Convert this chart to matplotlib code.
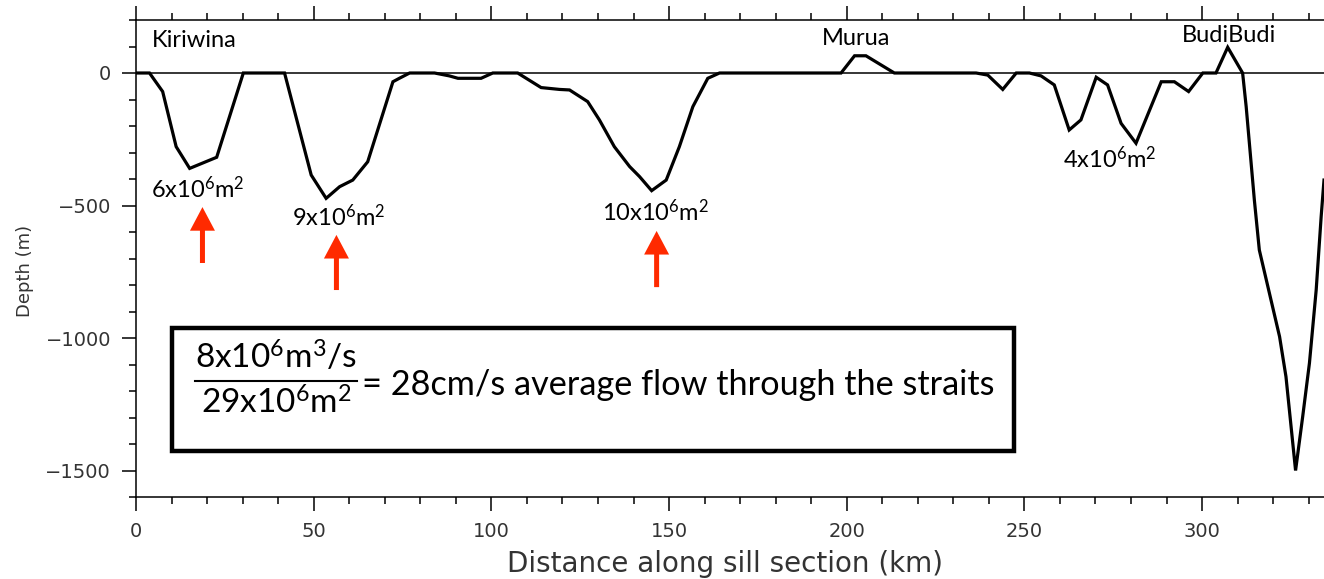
import matplotlib
matplotlib.use('Agg')
import matplotlib.pyplot as plt
from matplotlib.patches import Rectangle, FancyArrowPatch
from matplotlib.ticker import MultipleLocator

# ---------------- data ----------------
distance_km = [0, 3.8, 7.5, 11.3, 15.1, 22.7, 30.2, 41.8, 49.3, 53.5, 57.3, 61.0, 65.2,
               72.3, 74.1, 77.0, 84.0, 88.2, 90.6, 97.1, 100.4, 107.4, 114.0, 119.2,
               122.0, 127.1, 130.4, 134.6, 138.9, 141.7, 145.1, 149.2, 152.9, 156.7,
               160.9, 164.2, 198.4, 202.2, 205.4, 213.4, 236.4, 239.7, 243.9, 247.7,
               251.4, 254.7, 258.4, 262.6, 265.9, 270.2, 273.4, 277.2, 281.4, 288.5,
               292.2, 296.2, 300.2, 303.9, 307.2, 311.4, 312.4, 314.7, 316.1, 321.8,
               323.6, 326.3, 328.3, 330.2, 332.1, 333.5, 334.3]
depth_m = [0, 0, -70, -278, -360, -318, 0, 0, -385, -473, -429, -404, -335,
           -33, -20, 0, 0, -11, -20, -20, 0, 0, -55, -62,
           -64, -108, -177, -278, -353, -391, -444, -404, -278, -127,
           -20, 0, 0, 65, 65, 0, 0, -8, -62, 0,
           0, -11, -45, -215, -177, -16, -45, -190, -265, -33,
           -33, -70, 0, 0, 97, 0, -127, -479, -668, -995,
           -1146, -1500, -1297, -1095, -819, -542, -404]

place_names = ["Kiriwina", "Murua", "BudiBudi"]
place_km = [16.5, 202.5, 307.7]
place_m = [121, 132, 140]

area_labels = [r"$\mathrm{6x10^6m^2}$", r"$\mathrm{9x10^6m^2}$",
               r"$\mathrm{10x10^6m^2}$", r"$\mathrm{4x10^6m^2}$"]
area_km = [17.3, 57.0, 146.2, 273.9]
area_m = [-442, -547, -528, -328]

arrow_km = [18.7, 56.4, 146.5]
arrow_tail_m = [-717, -819, -808]
arrow_tip_m = [-506, -611, -596]

xticks = [0, 50, 100, 150, 200, 250, 300]
yticks = [0, -500, -1000, -1500]

# ---------------- style ----------------
plt.rcParams['mathtext.fontset'] = 'custom'
plt.rcParams['mathtext.rm'] = 'Lato'
plt.rcParams['mathtext.it'] = 'Lato:italic'
plt.rcParams['mathtext.bf'] = 'Lato:bold'

W, H = 1324, 579
fig = plt.figure(figsize=(W / 100, H / 100), dpi=100)
ax = fig.add_axes([136 / W, 1 - 497 / H, (W - 136) / W, (497 - 20) / H])

ax.plot(distance_km, depth_m, color='black', lw=2.3, solid_joinstyle='miter', zorder=3)
ax.axhline(0, color='black', lw=1.1, zorder=2)

ax.set_xlim(0, 334.3)
ax.set_ylim(-1600, 200)
ax.set_xticks(xticks)
ax.set_xticklabels([str(v) for v in xticks])
ax.set_yticks(yticks)
ax.set_yticklabels([str(v).replace('-', '\u2212') for v in yticks])
ax.xaxis.set_minor_locator(MultipleLocator(10))
ax.yaxis.set_minor_locator(MultipleLocator(100))

ax.spines['right'].set_visible(False)
for s in ['left', 'top', 'bottom']:
    ax.spines[s].set_linewidth(1.1)
ax.tick_params(axis='x', which='both', top=True, bottom=True, direction='out',
               width=1.1, labelsize=14, labelcolor='#333333', pad=8)
ax.tick_params(axis='y', which='both', left=True, right=False, direction='out',
               width=1.1, labelsize=14, labelcolor='#333333', pad=8)
ax.tick_params(which='major', length=10)
ax.tick_params(which='minor', length=5)

fig.text(25 / W, 1 - 271 / H, "Depth (m)", rotation=90, ha='center', va='center',
         fontsize=13, color='#333333')
fig.text(725 / W, 1 - 564 / H, "Distance along sill section (km)", ha='center',
         va='center', fontsize=20, color='#333333')

for name, x, y in zip(place_names, place_km, place_m):
    ax.text(x, y, name, ha='center', va='center', fontsize=17, family='Lato',
            color='black', zorder=4)

for lab, x, y in zip(area_labels, area_km, area_m):
    ax.text(x, y, lab, ha='center', va='center', fontsize=17, color='black', zorder=4)

for x, y0, y1 in zip(arrow_km, arrow_tail_m, arrow_tip_m):
    arr = FancyArrowPatch((x, y0), (x, y1),
                          arrowstyle='simple,head_length=17,head_width=18,tail_width=3.6',
                          mutation_scale=1, color='#ff2a00', shrinkA=0, shrinkB=0,
                          lw=0, zorder=4)
    ax.add_patch(arr)

# boxed equation
ax.add_patch(Rectangle((10.0, -1426), 237.2, 464, fill=False, lw=3.2,
                       edgecolor='black', zorder=5))
ax.text(39.5, -1075, r"$\mathrm{8x10^6m^3/s}$", ha='center', va='center',
        fontsize=24, zorder=6)
ax.text(39.5, -1249, r"$\mathrm{29x10^6m^2}$", ha='center', va='center',
        fontsize=24, zorder=6)
ax.plot([16.7, 62.3], [-1162, -1162], color='black', lw=1.5, zorder=6)
ax.text(63.7, -1177, "= 28cm/s average flow through the straits", ha='left',
        va='center', fontsize=24.7, family='Lato', zorder=6)

fig.savefig('out.png', dpi=100)
